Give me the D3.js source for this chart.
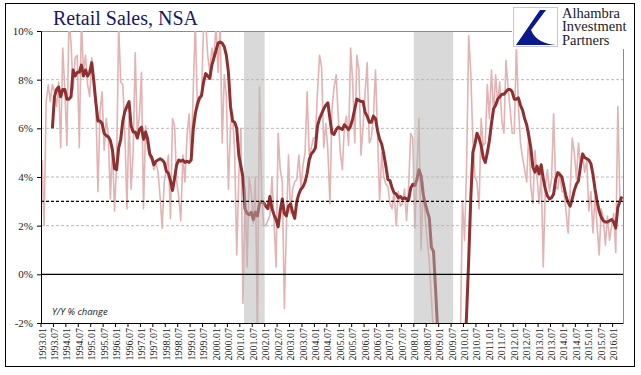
<!DOCTYPE html>
<html>
<head>
<meta charset="utf-8">
<script src="https://cdn.jsdelivr.net/npm/d3@7"></script>
<style>
  body{margin:0;background:#fff}
  svg{display:block}
</style>
</head>
<body>
<svg id="chart" width="641" height="375"></svg>
<script>
// monthly y/y % change, one row per year starting 1993.01
var startYear = 1993
var yoy = [
  4.7, 2.0, 7.1, 7.8, 7.1, 7.8, 7.5, 6.9, 7.9, 5.2, 9.3, 7.6,
  5.3, 10.5, 9.5, 7.6, 8.9, 9.0, 5.2, 10.5, 8.3, 9.0, 7.8, 7.3,
  8.9, 7.6, 6.9, 3.4, 6.7, 7.5, 5.1, 6.4, 5.7, 3.1, 5.3, 2.6,
  4.5, 10.2, 7.9, 7.8, 5.8, 2.7, 6.5, 3.5, 5.0, 9.1, 5.8, 6.5,
  8.3, 2.7, 6.1, 5.2, 4.8, 4.7, 4.3, 4.6, 4.2, 3.2, 1.9, 3.8,
  4.3, 4.9, 2.3, 6.4, 6.1, 3.8, 3.2, 2.2, 4.9, 3.8, 5.7, 6.6,
  4.7, 7.5, 10.4, 6.8, 7.1, 7.3, 10.3, 10.4, 9.0, 8.3, 9.3, 8.8,
  10.3, 8.3, 10.3, 5.4, 8.2, 7.3, 3.5, 6.1, 6.6, 5.0, 0.8, 4.0,
  6.0, -1.2, 3.6, 0.3, 4.0, 3.4, 2.1, 4.0, -2.5, 7.7, 3.4, 2.0,
  2.0, 2.2, 2.4, 4.0, 2.2, 0.3, 5.8, 4.3, 3.8, -1.4, 2.0, 4.9,
  2.5, 3.5, 3.8, 3.9, 4.9, 3.6, 4.5, 5.0, 7.5, 4.9, 5.2, 5.6,
  5.6, 7.5, 9.0, 8.5, 5.2, 6.2, 5.1, 2.9, 6.8, 7.7, 8.2, 6.5,
  5.0, 4.3, 6.1, 6.5, 5.3, 9.3, 7.9, 5.4, 9.0, 8.4, 4.9, 6.1,
  7.5, 8.7, 5.4, 5.6, 6.5, 8.4, 5.7, 3.0, 5.0, 4.0, 3.7, 3.6,
  2.9, 2.7, 3.4, 2.0, 3.4, 2.8, 2.9, 3.5, 2.2, 3.6, 5.8, 5.6,
  1.9, 4.3, 6.4, 1.0, 3.8, 2.3, 1.4, 0.5, -1.0, -2.5, -6.0, -9.0,
  -11.0, -10.0, -12.0, -11.0, -10.0, -9.0, -8.0, -9.0, -7.0, -5.0, -2.5, 3.0,
  1.4, 4.5, 9.8, 8.3, 5.5, 4.0, 3.8, 2.7, 6.4, 5.3, 5.4, 7.8,
  6.4, 8.4, 6.6, 8.2, 7.0, 7.9, 6.3, 5.8, 8.8, 7.7, 6.8, 5.8,
  5.8, 9.4, 6.9, 5.4, 4.8, 4.3, 3.8, 5.9, 3.6, 2.9, 5.1, 4.0,
  2.9, 4.2, 0.3, 3.6, 4.3, 3.4, 3.9, 6.6, 3.6, 3.5, 4.2, 3.4,
  3.4, 2.6, 1.7, 3.4, 5.6, 5.0, 3.9, 5.4, 4.4, 4.9, 4.2, 4.7,
  2.6, 3.4, 1.7, 3.2, 2.0, 0.8, 2.7, 2.3, 1.2, 2.4, 1.4, 2.0,
  2.5, 0.9, 6.9, 3.1, 3.2
]
// smoothed average of the same
var avg = [
  null, null, null, null, null, 6.0, 7.3, 7.6, 7.7, 7.3, 7.6, 7.6,
  7.2, 7.2, 7.3, 8.4, 8.15, 8.3, 8.3, 8.6, 8.15, 8.4, 8.15, 8.3,
  8.7, 7.95, 7.05, 6.3, 6.3, 6.2, 5.8, 5.7, 5.65, 5.5, 5.1, 4.35,
  4.3, 5.2, 5.55, 6.3, 6.7, 6.9, 7.1, 6.1, 5.85, 5.85, 5.6, 5.95,
  6.05, 5.55, 5.85, 5.55, 4.95, 4.8, 4.5, 4.65, 4.7, 4.75, 4.7, 4.6,
  4.25, 4.15, 3.85, 3.45, 3.95, 4.5, 4.7, 4.65, 4.7, 4.6, 4.65, 4.6,
  4.7, 5.95, 6.6, 7.0, 7.25, 7.35, 7.9, 8.25, 8.15, 8.05, 8.6, 8.9,
  9.2, 9.5, 9.55, 9.5, 9.35, 9.0, 8.3, 6.9, 6.3, 6.25, 6.0, 4.9,
  4.45, 4.0, 2.7, 2.5, 2.45, 2.55, 2.25, 2.55, 2.4, 2.9, 3.0, 2.95,
  2.8, 2.7, 3.2, 2.7, 2.45, 2.25, 1.95, 2.6, 3.1, 2.5, 2.4, 2.8,
  2.9, 2.55, 2.3, 3.0, 3.3, 3.5, 3.6, 3.8, 4.15, 4.7, 4.95, 5.05,
  5.2, 6.1, 6.4, 6.6, 6.8, 6.95, 7.05, 6.4, 5.8, 5.75, 5.95, 6.05,
  6.0, 5.95, 6.15, 6.05, 5.95, 6.1, 6.4, 6.8, 7.2, 7.15, 7.1, 7.1,
  6.65, 6.5, 6.25, 6.25, 6.5, 6.4, 5.9, 5.55, 5.35, 4.95, 4.45, 3.9,
  3.85, 3.55, 3.35, 3.3, 3.15, 3.2, 3.1, 3.15, 3.1, 3.05, 3.55, 3.7,
  3.65, 3.9, 4.3, 4.05, 3.3, 2.9, 2.6, 2.3, 1.1, 0.95, -0.6, -2.3,
  -4.5, -6.5, -8.0, -9.0, -9.5, -9.8, -10.0, -9.5, -8.5, -7.0, -6.0, -5.0,
  -3.5, -1.6, 0.6, 3.1, 5.0, 5.35, 5.8, 5.6, 5.3, 4.8, 4.6, 5.0,
  5.5, 6.2, 6.8, 6.95, 7.2, 7.3, 7.4, 7.4, 7.5, 7.6, 7.6, 7.5,
  7.2, 7.2, 7.25, 6.95, 6.75, 6.4, 6.15, 5.7, 5.2, 4.4, 4.2, 4.45,
  4.12, 4.5, 3.95, 3.5, 3.22, 3.1, 3.15, 3.3, 3.9, 4.18, 4.1, 4.0,
  3.6, 3.2, 2.95, 2.8, 3.1, 3.45, 3.7, 3.85, 4.45, 4.95, 4.8, 4.75,
  4.7, 4.55, 4.1, 3.5, 3.0, 2.6, 2.35, 2.2, 2.15, 2.15, 2.2, 2.25,
  2.15, 1.9, 2.75, 3.0, 3.2
]
var yTicks = [-2, 0, 2, 4, 6, 8, 10]
var gridTicks = [2, 4, 6, 8]
var refLine = 3
var recessions = [['2001.03', '2001.12'], ['2008.01', '2009.07']]
var logoLines = ['Alhambra', 'Investment', 'Partners']

var months = yoy.map(function(d, i){
  var m = i % 12 + 1
  return (startYear + Math.floor(i / 12)) + '.' + (m < 10 ? '0' : '') + m
})
var xLabels = months.filter(function(d, i){ return i % 6 == 0 })

var svg = d3.select('#chart')
var pL = 41, pR = 623, pT = 31, pB = 323
var serif = '"Liberation Serif", "Times New Roman", serif'

var x = d3.scaleBand().domain(months).range([pL, pR])
var y = d3.scaleLinear().domain([-2, 10]).range([pB, pT])
var cx = function(d){ return x(d) + x.bandwidth() / 2 }

svg.append('defs').append('clipPath').attr('id', 'plot')
  .append('rect').attr('x', pL).attr('y', pT)
  .attr('width', pR - pL).attr('height', pB - pT)

// grid
svg.append('g').selectAll('line').data(gridTicks).enter().append('line')
  .attr('x1', pL).attr('x2', pR)
  .attr('y1', function(d){ return y(d) }).attr('y2', function(d){ return y(d) })
  .attr('stroke', '#a8a8a8').attr('stroke-width', 0.8).attr('stroke-dasharray', '3,2')

// top and right frame of plot
svg.append('path')
  .attr('d', 'M' + pL + ',' + (pT + 0.5) + 'H' + (pR + 0.5) + 'V' + pB)
  .attr('fill', 'none').attr('stroke', '#8c8c8c').attr('stroke-width', 1)

var plot = svg.append('g').attr('clip-path', 'url(#plot)')

var line = d3.line()
  .defined(function(d){ return d != null })
  .x(function(d, i){ return cx(months[i]) })
  .y(function(d){ return y(d) })

plot.append('path').datum(yoy).attr('d', line)
  .attr('fill', 'none').attr('stroke', '#e3b2b2').attr('stroke-width', 1.6)
  .attr('stroke-linejoin', 'round')

plot.append('path').datum(avg).attr('d', line)
  .attr('fill', 'none').attr('stroke', '#8f2f2f').attr('stroke-width', 3)
  .attr('stroke-linejoin', 'round')

// recession shading on top of the lines
plot.selectAll('.rec').data(recessions).enter().append('rect')
  .attr('class', 'rec')
  .attr('x', function(d){ return x(d[0]) })
  .attr('width', function(d){ return x(d[1]) + x.bandwidth() - x(d[0]) })
  .attr('y', pT + 1).attr('height', pB - pT - 1)
  .attr('fill', '#b4b4b4').attr('opacity', 0.5)

// reference lines
svg.append('line').attr('x1', pL).attr('x2', pR)
  .attr('y1', y(0)).attr('y2', y(0))
  .attr('stroke', '#000').attr('stroke-width', 1.2)
svg.append('line').attr('x1', pL).attr('x2', pR)
  .attr('y1', y(refLine)).attr('y2', y(refLine))
  .attr('stroke', '#000').attr('stroke-width', 1.1).attr('stroke-dasharray', '3,2')

// y axis
var yAxis = svg.append('g').attr('transform', 'translate(' + pL + ',0)')
  .call(d3.axisLeft(y).tickValues(yTicks).tickSize(4).tickPadding(4)
    .tickFormat(function(d){ return d + '%' }))
yAxis.select('.domain').attr('stroke', '#000')
yAxis.selectAll('line').attr('stroke', '#000')
yAxis.selectAll('text').attr('font-family', serif).attr('font-size', 11).attr('fill', '#222')

// x axis
var xAxis = svg.append('g').attr('transform', 'translate(0,' + pB + ')')
  .call(d3.axisBottom(x).tickValues(xLabels).tickSize(0).tickSizeOuter(0))
xAxis.select('.domain').attr('stroke', '#000')
xAxis.selectAll('text')
  .attr('transform', 'rotate(-90)')
  .attr('text-anchor', 'end')
  .attr('x', -5).attr('y', 0).attr('dy', '0.35em')
  .attr('font-family', serif).attr('font-size', 10).attr('fill', '#222')
xAxis.selectAll('.xt').data(xLabels).enter().append('line')
  .attr('class', 'xt')
  .attr('x1', function(d){ return x(d) }).attr('x2', function(d){ return x(d) })
  .attr('y1', 0).attr('y2', 4).attr('stroke', '#000')

svg.append('text').attr('x', 52).attr('y', 315)
  .attr('font-family', '"Open Sans", sans-serif').attr('font-style', 'italic')
  .attr('font-size', 9.5).attr('fill', '#222').text('Y/Y % change')

// title
svg.append('text').attr('x', 53).attr('y', 25)
  .attr('font-family', serif).attr('font-size', 20).attr('fill', '#17176b')
  .text('Retail Sales, NSA')

// logo
var logo = svg.append('g')
logo.append('rect').attr('x', 512).attr('y', 4).attr('width', 122).attr('height', 45).attr('fill', '#fff')
logo.append('rect').attr('x', 513.5).attr('y', 7.5).attr('width', 44).attr('height', 39)
  .attr('fill', '#fff').attr('stroke', '#c8c8c8').attr('stroke-width', 1)
logo.append('path')
  .attr('d', 'M540,10 L546,10 L531,30 C535,40 545,44 556,45 L516,45 Z')
  .attr('fill', '#0a1a8c')
logo.selectAll('text').data(logoLines).enter().append('text')
  .attr('x', 562).attr('y', function(d, i){ return 17.5 + i * 13.5 })
  .attr('font-family', serif).attr('font-size', 14.5).attr('fill', '#1a1a2a')
  .text(function(d){ return d })

// outer frame
svg.append('rect').attr('x', 5.5).attr('y', 3.5).attr('width', 629).attr('height', 363)
  .attr('fill', 'none').attr('stroke', '#000').attr('stroke-width', 1)
</script>
</body>
</html>
